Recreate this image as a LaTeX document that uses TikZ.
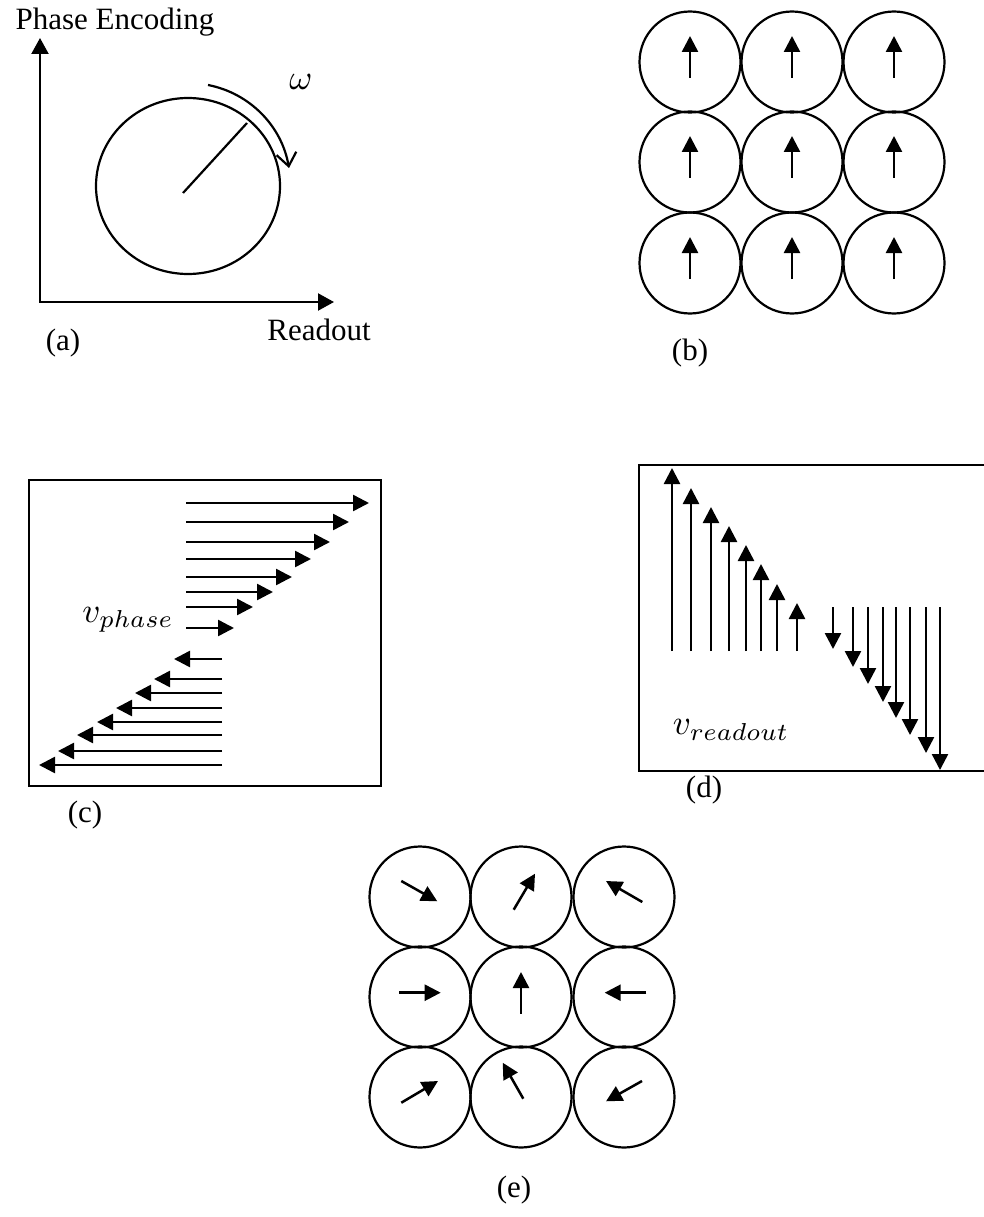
\documentclass[tikz,border=0pt]{standalone}
\usepackage{fontspec}
\setmainfont{Liberation Serif}
\usetikzlibrary{arrows.meta,shapes.geometric}
\begin{document}
\begin{tikzpicture}[x=1pt,y=-1pt,
  lbl/.style={font=\fontsize{31}{36}\selectfont, inner sep=0pt},
  mth/.style={scale=3.5, inner sep=0pt},
  ln/.style={line width=2.2pt},
  tri/.style={line width=2.5pt, -{Triangle[length=16pt,width=16pt]}},
  cell/.style={circle, draw, line width=2.2pt, minimum size=101pt, inner sep=0pt},
  frame/.style={line width=2pt}
]
\useasboundingbox (0,0) rectangle (983,1217);

% ---------- (a) ----------
\coordinate (ytop) at (40,38);
\coordinate (orig) at (40,302);
\coordinate (xend) at (334,302);
\draw[ln, line join=miter, {Triangle[length=16pt,width=17pt]}-{Triangle[length=16pt,width=17pt]}] (ytop) -- (orig) -- (xend);
\node[draw, ellipse, line width=2.2pt, minimum width=184pt, minimum height=176pt, inner sep=0pt] (disc) at (188,186) {};
\coordinate (rc) at (183,193);
\coordinate (re) at (247,123);
\draw[ln] (rc) -- (re);
\coordinate (w1) at (208,85);
\coordinate (w2) at (289,168);
\draw[ln, -{Straight Barb[length=13pt,width=20pt]}] (w1) .. controls (249.8,93.1) and (281.6,126) .. (w2);
\node[mth] (om) at (301,82) {$\omega$};
\node[lbl] (pe) at (115,22) {Phase Encoding};
\node[lbl] (ro) at (319,330) {Readout};
\node[lbl] (la) at (63,343) {(a)};

% ---------- (b) ----------
\foreach \cx [count=\i] in {690,792,894}{
  \foreach \cy [count=\j] in {62,162,263}{
    \node[cell] (b\i\j) at (\cx,\cy) {};
    \draw[tri] ([yshift=-16pt]b\i\j.center) -- ([yshift=26pt]b\i\j.center);
  }
}
\node[lbl] (lb) at (690,353) {(b)};

% ---------- (c) ----------
\draw[frame] (29,480) rectangle (381,786);
\foreach \y/\t in {503/369,522/349,542/330,559/311,577/292,592/273,607/253,628/234}{
  \draw[tri] (186,\y) -- (\t,\y);
}
\foreach \y/\t in {659/174,679/154,693/135,708/116,722/97,735/77,751/58,765/39}{
  \draw[tri] (222,\y) -- (\t,\y);
}
\node[mth] (vp) at (128,620) {$v_{phase}$};
\node[lbl] (lc) at (85,815) {(c)};

% ---------- (d) ----------
\draw[frame] (985,465) -- (639,465) -- (639,771) -- (985,771);
\foreach \x/\t in {672/468,691/488,711/507,729/526,746/545,761/564,777/584,797/603}{
  \draw[tri] (\x,651) -- (\x,\t);
}
\foreach \x/\t in {833/649,853/667,868/684,883/702,896/718,910/735,926/753,940/770}{
  \draw[tri] (\x,607) -- (\x,\t);
}
\node[mth] (vr) at (731,730) {$v_{readout}$};
\node[lbl] (ld) at (704,790) {(d)};

% ---------- (e) ----------
\foreach \cx [count=\i] in {420,521,624}{
  \foreach \cy [count=\j] in {897,997,1097}{
    \node[cell] (e\i\j) at (\cx,\cy) {};
  }
}
\draw[tri] ([shift={(-18.7,-16)}]e11.center) -- ([shift={(17.3,4.3)}]e11.center);
\draw[tri] ([shift={(-7.3,12.7)}]e21.center) -- ([shift={(14,-23.3)}]e21.center);
\draw[tri] ([shift={(18.3,5)}]e31.center) -- ([shift={(-18,-16)}]e31.center);
\draw[tri] ([shift={(-21,-4.3)}]e12.center) -- ([shift={(20.7,-4.3)}]e12.center);
\draw[tri] ([shift={(0,16.7)}]e22.center) -- ([shift={(0,-25)}]e22.center);
\draw[tri] ([shift={(22.3,-4.3)}]e32.center) -- ([shift={(-19.3,-4.3)}]e32.center);
\draw[tri] ([shift={(-18.7,5.7)}]e13.center) -- ([shift={(18,-16)}]e13.center);
\draw[tri] ([shift={(2.3,1.7)}]e23.center) -- ([shift={(-18.3,-34.3)}]e23.center);
\draw[tri] ([shift={(18,-16)}]e33.center) -- ([shift={(-18,4.3)}]e33.center);
\node[lbl] (le) at (514,1190) {(e)};
\end{tikzpicture}
\end{document}
